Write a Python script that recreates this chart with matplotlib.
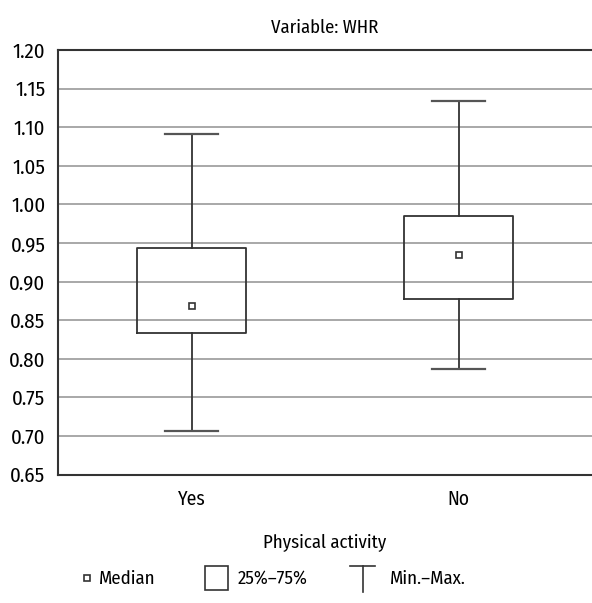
import matplotlib.pyplot as plt
from matplotlib.patches import Rectangle

plt.rcParams['font.family'] = ['Fira Sans Condensed', 'DejaVu Sans']

# data
groups = ['Yes', 'No']
minimum = [0.707, 0.787]
q1 = [0.833, 0.878]
median = [0.868, 0.935]
q3 = [0.943, 0.985]
maximum = [1.091, 1.134]
yticks = [0.65, 0.70, 0.75, 0.80, 0.85, 0.90, 0.95, 1.00, 1.05, 1.10, 1.15, 1.20]

dark = '#333333'
fs = 13.5

fig = plt.figure(figsize=(5.92, 6.03), dpi=100)
ax = fig.add_axes([58 / 592, 1 - 474.6 / 603, 1 - 58 / 592, (474.6 - 50) / 603])

stats = []
for i, g in enumerate(groups):
    stats.append(dict(label=g, whislo=minimum[i], q1=q1[i], med=median[i],
                      q3=q3[i], whishi=maximum[i], fliers=[]))

pos = list(range(1, len(groups) + 1))
ax.bxp(stats, positions=pos, widths=0.405, capwidths=0.195, showfliers=False,
       boxprops=dict(color=dark, linewidth=1.3),
       whiskerprops=dict(color=dark, linewidth=1.3),
       capprops=dict(color='#555555', linewidth=1.6),
       medianprops=dict(visible=False), patch_artist=False)
ax.plot(pos, median, 's', ms=5, mfc='white', mec=dark, mew=1.2, ls='none', zorder=5)

ax.set_xlim(0.5, 2.5)
ax.set_ylim(0.65, 1.20)
ax.set_yticks(yticks)
ax.set_yticklabels([f'{v:.2f}' for v in yticks], fontsize=15)
ax.set_xticks(pos)
ax.set_xticklabels(groups, fontsize=14)
ax.tick_params(length=0, pad=9)
ax.tick_params(axis='x', pad=11)
ax.grid(axis='y', color='#999999', linewidth=1.2)
ax.set_axisbelow(True)
ax.spines['right'].set_visible(False)
for s in ['left', 'top', 'bottom']:
    ax.spines[s].set_color(dark)
    ax.spines[s].set_linewidth(1.5)

ax.set_title('Variable: WHR', fontsize=fs, pad=12)
ax.set_xlabel('Physical activity', fontsize=fs, labelpad=17)

# legend drawn in its own pixel-scaled axes
lg = fig.add_axes([0, 0, 1, 60 / 603])
lg.set_xlim(0, 592)
lg.set_ylim(603, 543)
lg.axis('off')
lg.plot([87], [578], 's', ms=5, mfc='white', mec=dark, mew=1.2)
lg.text(99, 579, 'Median', fontsize=fs, va='center')
lg.add_patch(Rectangle((205, 566), 23, 24, fill=False, ec=dark, lw=1.2))
lg.text(238, 579, '25%–75%', fontsize=fs, va='center')
lg.plot([350, 375], [566, 566], color=dark, lw=1.2)
lg.plot([362.5, 362.5], [566, 592], color=dark, lw=1.2)
lg.text(390, 579, 'Min.–Max.', fontsize=fs, va='center')

fig.savefig('out.png', dpi=100)
